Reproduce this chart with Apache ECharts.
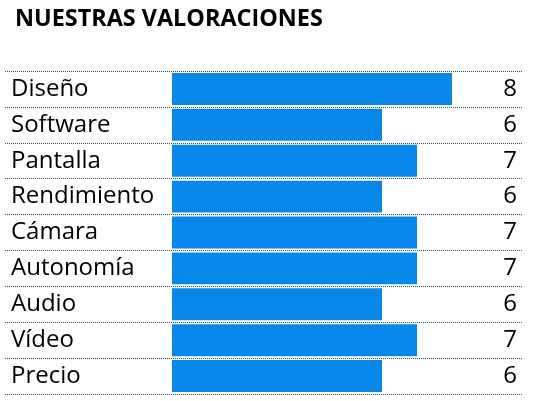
<!DOCTYPE html>
<html>
<head>
<meta charset="utf-8">
<script src="https://cdn.jsdelivr.net/npm/echarts@6/dist/echarts.min.js"></script>
<style>
  html, body { margin: 0; padding: 0; background: #fff; }
  #chart { width: 535px; height: 401px; }
</style>
</head>
<body>
<div id="chart"></div>
<script>
const categories = ['Diseño', 'Software', 'Pantalla', 'Rendimiento', 'Cámara', 'Autonomía', 'Audio', 'Vídeo', 'Precio']
const scores = [8, 6, 7, 6, 7, 7, 6, 7, 6]

const fontFamily = '"Open Sans", Lato, sans-serif'
const chart = echarts.init(document.getElementById('chart'), null, { renderer: 'canvas' })

const option = {
  animation: false,
  title: {
    text: 'NUESTRAS VALORACIONES',
    left: 10,
    top: 3,
    textStyle: { fontFamily: fontFamily, fontSize: 23.4, fontWeight: 'bold', color: '#000' }
  },
  grid: [
    { left: 172, top: 71, width: 350, height: 323 },
    { left: 5, top: 71, width: 518, height: 323 }
  ],
  xAxis: [
    { gridIndex: 0, type: 'value', min: 0, max: 10, show: false },
    { gridIndex: 1, type: 'value', min: 0, max: 10, show: false }
  ],
  yAxis: [
    {
      gridIndex: 0,
      type: 'category',
      inverse: true,
      data: categories,
      axisLine: { show: false },
      axisTick: { show: false },
      splitLine: { show: false },
      axisLabel: {
        align: 'left',
        margin: 161,
        padding: [2, 0, 0, 0],
        fontFamily: fontFamily,
        fontSize: 24,
        color: '#000'
      }
    },
    {
      gridIndex: 0,
      type: 'category',
      inverse: true,
      position: 'right',
      data: scores.map(String),
      axisLine: { show: false },
      axisTick: { show: false },
      splitLine: { show: false },
      axisLabel: {
        align: 'right',
        margin: -5,
        padding: [2, 0, 0, 0],
        fontFamily: fontFamily,
        fontSize: 24,
        color: '#000'
      }
    },
    {
      gridIndex: 1,
      type: 'category',
      inverse: true,
      data: categories,
      axisLine: { show: false },
      axisTick: { show: false },
      axisLabel: { show: false },
      splitLine: {
        show: true,
        lineStyle: { color: '#2f5656', type: [1, 1], width: 1 }
      }
    }
  ],
  series: [
    {
      type: 'bar',
      xAxisIndex: 0,
      yAxisIndex: 0,
      data: scores,
      barCategoryGap: '11%',
      itemStyle: { color: '#0787e9' }
    }
  ]
}

chart.setOption(option)
</script>
</body>
</html>
